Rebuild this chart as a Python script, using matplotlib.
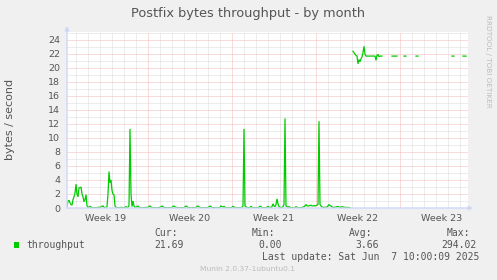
import numpy as np
import matplotlib
matplotlib.use('Agg')
import matplotlib.pyplot as plt
from matplotlib.patches import Rectangle, FancyArrowPatch

nan = float('nan')

# ---------------- data ----------------
title = 'Postfix bytes throughput - by month'
y_label = 'bytes / second'
week_labels = ['Week 19', 'Week 20', 'Week 21', 'Week 22', 'Week 23']
week_centers = [3.5, 10.5, 17.5, 24.5, 31.5]      # days since Mon of week 19
week_bounds = [7, 14, 21, 28]
y_ticks = [0, 2, 4, 6, 8, 10, 12, 14, 16, 18, 20, 22, 24]

sample_start_day = 0.25   # first sample, days since Mon of week 19
samples_per_day = 12      # 2-hour resolution

throughput = [
    0.2, 1.0, 1.1, 0.75, 0.5, 0.4, 1.2, 1.6, 2.1,
    3.4, 2.0, 1.6, 2.9, 2.9, 3.0, 2.0, 1.6, 0.9, 1.2, 1.9, 0.3,
    0.1, 0.1, 0.25, 0.15, 0.05, 0.05, 0.05, 0.05, 0.05, 0.05, 0.1, 0.1,
    0.1, 0.15, 0.25, 0.3, 0.1, 0.05, 0.1, 0.2, 2.0, 5.2, 3.6, 4.0,
    2.5, 2.0, 1.9, 0.3, 0.1, 0.05, 0.05, 0.05, 0.05, 0.1, 0.05, 0.05,
    0.05, 0.1, 0.2, 0.1, 0.1, 0.3, 11.3, 2.0, 0.2, 1.0, 0.3, 0.1,
    0.1, 0.2, 0.3, 0.1, 0.05, 0.05, 0.05, 0.05, 0.05, 0.05, 0.1, 0.05,
    0.1, 0.2, 0.3, 0.15, 0.05, 0.05, 0.05, 0.05, 0.05, 0.05, 0.05, 0.05,
    0.1, 0.15, 0.3, 0.2, 0.05, 0.05, 0.05, 0.05, 0.05, 0.05, 0.05, 0.05,
    0.1, 0.2, 0.3, 0.15, 0.05, 0.05, 0.05, 0.05, 0.05, 0.05, 0.05, 0.05,
    0.05, 0.15, 0.3, 0.2, 0.05, 0.05, 0.05, 0.05, 0.05, 0.05, 0.05, 0.05,
    0.1, 0.2, 0.3, 0.15, 0.05, 0.05, 0.05, 0.05, 0.05, 0.05, 0.05, 0.05,
    0.05, 0.15, 0.3, 0.2, 0.05, 0.05, 0.05, 0.05, 0.05, 0.05, 0.05, 0.05,
    0.1, 0.3, 0.2, 0.1, 0.25, 0.1, 0.05, 0.05, 0.05, 0.05, 0.05, 0.05,
    0.1, 0.25, 0.15, 0.05, 0.05, 0.05, 0.05, 0.05, 0.05, 0.05, 0.1, 0.3,
    11.3, 0.3, 0.2, 0.05, 0.05, 0.05, 0.05, 0.25, 0.1, 0.05, 0.05, 0.05,
    0.05, 0.05, 0.05, 0.1, 0.25, 0.2, 0.05, 0.05, 0.05, 0.05, 0.05, 0.1,
    0.25, 0.1, 0.1, 0.1, 0.2, 0.6, 0.3, 0.2, 0.5, 1.3, 0.6, 0.2,
    0.1, 0.05, 0.1, 0.2, 0.5, 12.8, 0.3, 0.2, 0.1, 0.2, 0.1, 0.05,
    0.05, 0.05, 0.05, 0.05, 0.2, 0.1, 0.05, 0.05, 0.05, 0.05, 0.1, 0.1,
    0.2, 0.3, 0.5, 0.3, 0.3, 0.3, 0.35, 0.4, 0.3, 0.3, 0.35, 0.3,
    0.35, 0.4, 0.5, 12.4, 0.5, 0.3, 0.15, 0.1, 0.1, 0.1, 0.1, 0.15,
    0.3, 0.5, 0.35, 0.3, 0.15, 0.1, 0.1, 0.1, 0.15, 0.2, 0.2, 0.15,
    0.1, 0.1, 0.2, 0.15, 0.1, 0.1, 0.1, 0.05, 0.1, 0.05, 0.05, nan,
    nan, 22.4, 22.2, 21.95, 21.8, 21.7, 20.6, 21.2, 20.9, 21.3, 21.6, 22.2,
    23.1, 21.95, 21.7, 21.7, 21.7, 21.7, 21.7, 21.7, 21.7, 21.7, 21.7, 21.7,
    21.1, 21.8, 21.95, 21.6, 21.7, 21.7, 21.7, nan, nan, nan, nan, nan,
    nan, nan, nan, nan, 21.7, 21.7, 21.7, 21.7, 21.7, 21.7, nan, nan,
    nan, nan, nan, nan, 21.7, 21.7, 21.7, nan, nan, nan, nan, nan,
    nan, nan, nan, nan, 21.7, 21.7, 21.7, nan, nan, nan, nan, nan,
    nan, nan, nan, nan, nan, nan, nan, nan, nan, nan, nan, nan,
    nan, nan, nan, nan, nan, nan, nan, nan, nan, nan, nan, nan,
    nan, nan, nan, nan, 21.7, 21.7, 21.7, nan, nan, nan, nan, nan,
    nan, nan, nan, 21.7, 21.7, 21.7, 21.69,
]

series_name = 'throughput'
stat_names = ['Cur:', 'Min:', 'Avg:', 'Max:']
stat_values = ['21.69', '0.00', '3.66', '294.02']
last_update = 'Last update: Sat Jun  7 10:00:09 2025'
footer = 'Munin 2.0.37-1ubuntu0.1'
watermark = 'RRDTOOL / TOBI OETIKER'

# ---------------- drawing ----------------
W, H = 497, 280
fig = plt.figure(figsize=(W / 100, H / 100), dpi=100, facecolor='#f0f0f0')

L, R, T, B = 67, 468, 32, 208
ax = fig.add_axes([L / W, 1 - B / H, (R - L) / W, (B - T) / H])
ax.set_facecolor('white')

x_min, x_max = 0.25, 33.667
y_max = 25.14
ax.set_xlim(x_min, x_max)
ax.set_ylim(0, y_max)

minor_c = '#dadada'
major_c = '#f5b9b9'
dot = (0, (1, 1))
lw = 0.72
for d in range(1, 34):
    if d in week_bounds:
        continue
    ax.axvline(d, color=minor_c, lw=lw, ls=dot, zorder=1, snap=True)
for v in range(1, 26, 2):
    ax.axhline(v, color=minor_c, lw=lw, ls=dot, zorder=1, snap=True)
for v in y_ticks[1:]:
    ax.axhline(v, color=major_c, lw=lw, ls=dot, zorder=1.5, snap=True)
for d in week_bounds:
    ax.axvline(d, color=major_c, lw=lw, ls=dot, zorder=1.5, snap=True)

t = sample_start_day + np.arange(len(throughput)) / samples_per_day
ax.plot(t, throughput, color='#00cc00', lw=0.9, zorder=3, solid_joinstyle='miter')

txt_c = '#555555'
ax.set_yticks(y_ticks)
ax.set_yticklabels([str(v) for v in y_ticks], fontsize=6.8, color=txt_c)
ax.set_xticks(week_centers)
ax.set_xticklabels(week_labels, fontsize=6.8, color=txt_c)
ax.tick_params(axis='both', length=0)
ax.tick_params(axis='y', pad=5)
ax.tick_params(axis='x', pad=4.5)
for s in ax.spines.values():
    s.set_visible(False)

axis_c = '#CFD6F8'
fig.add_artist(FancyArrowPatch(
    (L, H - B), (R + 5, H - B), transform=None, arrowstyle='-|>',
    mutation_scale=6, color=axis_c, lw=1, shrinkA=0, shrinkB=0))
fig.add_artist(FancyArrowPatch(
    (L, H - B), (L, H - 26), transform=None, arrowstyle='-|>',
    mutation_scale=6, color=axis_c, lw=1, shrinkA=0, shrinkB=0))

def fx(px):
    return px / W

def fy(py):
    return 1 - py / H

fig.text(fx(248), fy(17.3), title, ha='center', va='baseline',
         fontsize=9.3, color=txt_c, family='DejaVu Sans')
fig.text(fx(10), fy(119), y_label, ha='center', va='center', rotation=90,
         fontsize=8, color=txt_c, family='DejaVu Sans')
fig.text(fx(488), fy(15), watermark, ha='center', va='top', rotation=270,
         fontsize=5.2, color='#bcbcbc', family='DejaVu Sans')

mono = 'DejaVu Sans Mono'
fs = 7
fig.add_artist(Rectangle((14, H - 247.7), 5.3, 5.3, transform=None,
                         facecolor='#00cc00', edgecolor='none'))
fig.text(fx(26.7), fy(248), series_name, ha='left', va='baseline',
         fontsize=fs, color=txt_c, family=mono)
name_x = [154.3, 251.7, 349, 446.7]
val_x = [154.3, 258.3, 355, 441.7]
for n, v, nx, vx in zip(stat_names, stat_values, name_x, val_x):
    fig.text(fx(nx), fy(236.5), n, ha='left', va='baseline',
             fontsize=fs, color=txt_c, family=mono)
    fig.text(fx(vx), fy(248), v, ha='left', va='baseline',
             fontsize=fs, color=txt_c, family=mono)
fig.text(fx(261.7), fy(259.5), last_update, ha='left', va='baseline',
         fontsize=fs, color=txt_c, family=mono)
fig.text(fx(248), fy(269), footer, ha='center', va='center',
         fontsize=5.4, color='#bcbcbc', family='DejaVu Sans')

fig.savefig('out.png', dpi=100, facecolor=fig.get_facecolor())
